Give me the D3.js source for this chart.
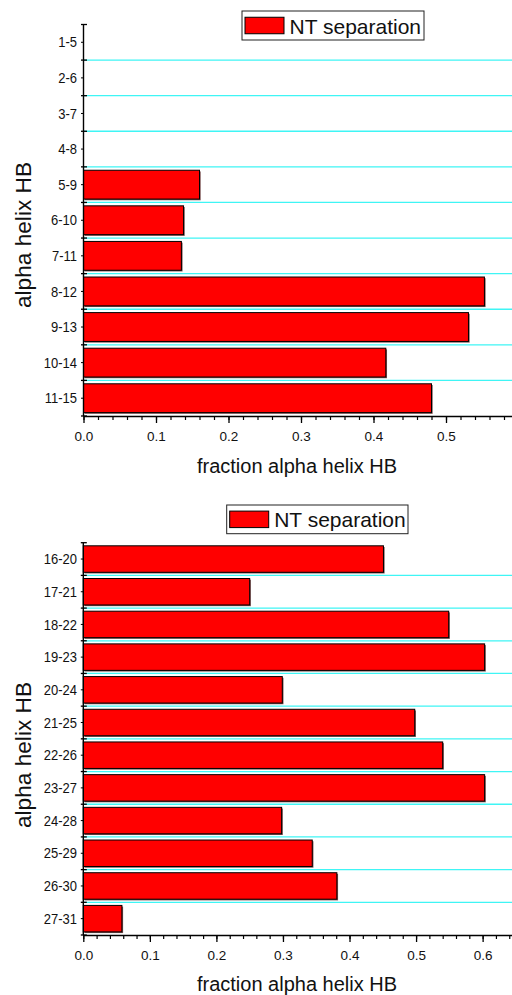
<!DOCTYPE html>
<html>
<head>
<meta charset="utf-8">
<script src="https://cdn.jsdelivr.net/npm/d3@7/dist/d3.min.js"></script>
<style>
  html, body { margin: 0; padding: 0; background: #fff; }
  svg { display: block; }
</style>
</head>
<body>
<svg id="chart" width="512" height="995"></svg>
<script>
// Helical H-bond windows, N-terminal half
const topCategories = ["1-5", "2-6", "3-7", "4-8", "5-9", "6-10", "7-11", "8-12", "9-13", "10-14", "11-15"];
const topValues = [0, 0, 0, 0, 0.160, 0.138, 0.135, 0.553, 0.531, 0.417, 0.480];
const topTicks = [0, 0.1, 0.2, 0.3, 0.4, 0.5];

// Helical H-bond windows, C-terminal half
const bottomCategories = ["16-20", "17-21", "18-22", "19-23", "20-24", "21-25", "22-26", "23-27", "24-28", "25-29", "26-30", "27-31"];
const bottomValues = [0.451, 0.250, 0.549, 0.603, 0.299, 0.498, 0.540, 0.603, 0.298, 0.344, 0.381, 0.058];
const bottomTicks = [0, 0.1, 0.2, 0.3, 0.4, 0.5, 0.6];

const seriesName = "NT separation";
const xTitle = "fraction alpha helix HB";
const yTitle = "alpha helix HB";

const FONT = "Arial, 'Liberation Sans', sans-serif";
const svg = d3.select("#chart");

function drawPanel(p) {
  const g = svg.append("g");

  const x = d3.scaleLinear().domain(p.domain).range([p.x0, p.x1]);
  const y = d3.scaleBand().domain(p.categories)
    .range([p.yTop, p.yBot]).paddingInner(0.19).paddingOuter(0.095);
  const step = y.step();
  const boundary = i => p.yTop + i * step;

  // cyan separators between categories
  g.append("g").selectAll("line")
    .data(d3.range(1, p.categories.length))
    .join("line")
    .attr("x1", p.x0).attr("x2", p.x1)
    .attr("y1", boundary).attr("y2", boundary)
    .attr("stroke", "#3ff5f5").attr("stroke-width", 1.3);

  const rows = p.categories.map((c, i) => ({ c, v: p.values[i] })).filter(d => d.v > 0);

  // bar shadows
  g.append("g").selectAll("rect")
    .data(rows)
    .join("rect")
    .attr("x", x(0) + 1.2)
    .attr("y", d => y(d.c) + 1.2)
    .attr("width", d => x(d.v) - x(0))
    .attr("height", y.bandwidth())
    .attr("fill", "#7d5555");

  // bars
  g.append("g").selectAll("rect")
    .data(rows)
    .join("rect")
    .attr("x", x(0))
    .attr("y", d => y(d.c))
    .attr("width", d => x(d.v) - x(0))
    .attr("height", y.bandwidth())
    .attr("fill", "#ff0000")
    .attr("stroke", "#000")
    .attr("stroke-width", 1);

  // x axis: minor ticks
  const minor = d3.range(0, p.domain[1] + 1e-9, 0.02).map(v => +v.toFixed(2));
  g.append("g")
    .attr("transform", `translate(0,${p.yBot})`)
    .call(d3.axisBottom(x).tickValues(minor).tickSize(4).tickSizeOuter(0).tickFormat(""))
    .call(s => s.select(".domain").remove())
    .call(s => s.selectAll("line").attr("stroke-width", 1.2));

  // x axis: major ticks and labels
  const xa = g.append("g")
    .attr("transform", `translate(0,${p.yBot})`)
    .call(d3.axisBottom(x).tickValues(p.ticks).tickSize(7).tickSizeOuter(0)
      .tickPadding(8).tickFormat(d3.format(".1f")));
  xa.attr("font-size", 13.5).attr("font-family", FONT);
  xa.select(".domain").attr("stroke-width", 1.4);
  xa.selectAll("line").attr("stroke-width", 1.3);
  xa.selectAll("text").attr("fill", "#111");

  // y axis line
  g.append("line")
    .attr("x1", p.x0).attr("x2", p.x0)
    .attr("y1", p.yTop).attr("y2", p.yBot)
    .attr("stroke", "#000").attr("stroke-width", 1.4);

  // crossing ticks at category boundaries
  g.append("g").selectAll("line")
    .data(d3.range(0, p.categories.length + 1))
    .join("line")
    .attr("x1", p.x0 - 2.5).attr("x2", p.x0 + 3.5)
    .attr("y1", boundary).attr("y2", boundary)
    .attr("stroke", "#000").attr("stroke-width", 1.3);

  // small ticks at category centres
  g.append("g").selectAll("line")
    .data(p.categories)
    .join("line")
    .attr("x1", p.x0 - 2.5).attr("x2", p.x0)
    .attr("y1", d => y(d) + y.bandwidth() / 2)
    .attr("y2", d => y(d) + y.bandwidth() / 2)
    .attr("stroke", "#000").attr("stroke-width", 1);

  // category labels
  g.append("g").selectAll("text")
    .data(p.categories)
    .join("text")
    .attr("transform", d => `translate(77,${y(d) + y.bandwidth() / 2}) scale(1,1.1)`)
    .attr("dy", "0.36em")
    .attr("text-anchor", "end")
    .attr("font-family", FONT)
    .attr("font-size", 13)
    .attr("fill", "#111")
    .text(d => d);

  // axis titles
  g.append("text")
    .attr("x", 297).attr("y", p.xTitleY)
    .attr("text-anchor", "middle")
    .attr("font-family", FONT).attr("font-size", 20)
    .attr("fill", "#111")
    .text(xTitle);

  g.append("text")
    .attr("transform", `translate(31,${p.yTitleY}) rotate(-90)`)
    .attr("text-anchor", "middle")
    .attr("font-family", FONT).attr("font-size", 21.5)
    .attr("textLength", 146).attr("lengthAdjust", "spacingAndGlyphs")
    .attr("fill", "#111")
    .text(yTitle);

  // legend
  const L = p.legend;
  const lg = g.append("g");
  lg.append("rect")
    .attr("x", L.x).attr("y", L.y).attr("width", L.w).attr("height", L.h)
    .attr("fill", "#fff").attr("stroke", "#222").attr("stroke-width", 1);
  lg.append("rect")
    .attr("x", L.x + 3).attr("y", L.y + (L.h - 16.5) / 2)
    .attr("width", 39).attr("height", 16.5)
    .attr("fill", "#ff0000").attr("stroke", "#000").attr("stroke-width", 1);
  lg.append("text")
    .attr("x", L.x + 47.5).attr("y", L.y + L.h - 6.5)
    .attr("font-family", FONT).attr("font-size", 21)
    .attr("fill", "#111")
    .text(seriesName);
}

drawPanel({
  categories: topCategories, values: topValues, ticks: topTicks,
  domain: [0, 0.6], x0: 83.5, x1: 518.5,
  yTop: 24.5, yBot: 416,
  xTitleY: 473, yTitleY: 235,
  legend: { x: 242, y: 11, w: 182, h: 29 }
});

drawPanel({
  categories: bottomCategories, values: bottomValues, ticks: bottomTicks,
  domain: [0, 0.65], x0: 83.3, x1: 515.9,
  yTop: 542.7, yBot: 935,
  xTitleY: 990.5, yTitleY: 755,
  legend: { x: 226.7, y: 505, w: 181.3, h: 28.7 }
});
</script>
</body>
</html>
